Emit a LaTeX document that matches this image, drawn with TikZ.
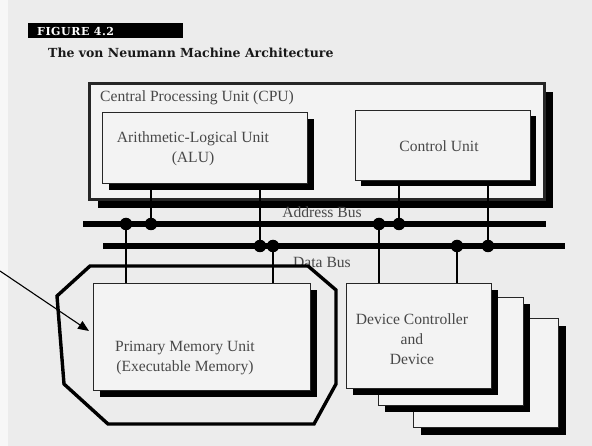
\documentclass[tikz,border=0pt]{standalone}
\usepackage{fontspec}
\setmainfont{Liberation Serif}
\newfontfamily\headfont{DejaVu Serif}
\newfontfamily\tagfont[LetterSpace=5]{DejaVu Serif}
\usetikzlibrary{arrows.meta,shadows}

\definecolor{paper}{RGB}{236,236,236}
\definecolor{boxfill}{RGB}{243,243,243}
\definecolor{ink}{RGB}{72,72,72}

\begin{document}
\begin{tikzpicture}[x=1pt,y=-1pt,
  unit/.style={draw=black!85, line width=1.4pt, fill=boxfill, inner sep=0pt, anchor=north west},
  shadowed/.style={drop shadow={shadow xshift=#1pt, shadow yshift=-#1pt, opacity=1, fill=black}},
  lbl/.style={text=ink, font=\fontsize{15.6}{20}\selectfont, align=center, inner sep=0pt},
  bus/.style={line width=6pt},
  tap/.style={line width=2.5pt},
  joint/.style={circle, fill=black, inner sep=0pt, minimum size=12.5pt},
]
% paper
\fill[paper] (0,0) rectangle (592,446);
\fill[white!60!paper] (0,0) rectangle (8,446);
\useasboundingbox (0,0) rectangle (592,446);

% caption
\node[fill=black, inner sep=0pt, minimum width=155pt, minimum height=15pt, anchor=north west] (tag) at (28,23) {};
\node[text=white, inner sep=0pt, anchor=west, font=\tagfont\bfseries\fontsize{11}{12}\selectfont] (tagtext) at (37,31) {FIGURE 4.2};
\node[text=black!90, inner sep=0pt, anchor=west, font=\headfont\bfseries\fontsize{12.5}{14}\selectfont] (title) at (48,53) {The von Neumann Machine Architecture};

% processor
\node[unit, line width=2.6pt, shadowed=9, minimum width=455pt, minimum height=116pt] (cpu) at (88,82) {};
\node[lbl, anchor=west] (cputext) at (100,98) {Central Processing Unit (CPU)};
\node[unit, shadowed=6, minimum width=205pt, minimum height=71pt] (alu) at (102,112) {};
\node[lbl] (alutext) at (193,149) {Arithmetic-Logical Unit\\(ALU)};
\node[unit, shadowed=5, minimum width=175pt, minimum height=70pt] (ctrl) at (355,110) {};
\node[lbl] (ctrltext) at (439,146) {Control Unit};

% memory and devices
\node[unit, shadowed=6, minimum width=217pt, minimum height=107pt] (mem) at (93,283) {};
\node[lbl] (memtext) at (185,358) {Primary Memory Unit\\(Executable Memory)};
\node[unit, shadowed=7, minimum width=145pt, minimum height=109pt] (dev3) at (413,318) {};
\node[unit, shadowed=6, minimum width=145pt, minimum height=108pt] (dev2) at (378,297) {};
\node[unit, shadowed=6, minimum width=145pt, minimum height=105pt] (dev1) at (346,283) {};
\node[lbl] (devtext) at (412,339) {Device Controller\\and\\Device};

% buses
\coordinate (abusL) at (83,224);
\coordinate (abusR) at (546,224);
\coordinate (dbusL) at (103,246);
\coordinate (dbusR) at (565,246);
\draw[bus] (abusL) -- (abusR);
\draw[bus] (dbusL) -- (dbusR);
\node[lbl] (abustext) at (322,212) {Address Bus};
\node[lbl] (dbustext) at (322,262) {Data Bus};

% junction points
\coordinate (a1) at (126,224);
\coordinate (a2) at (151,224);
\coordinate (a3) at (379,224);
\coordinate (a4) at (399,224);
\coordinate (d1) at (260,246);
\coordinate (d2) at (273,246);
\coordinate (d3) at (457,246);
\coordinate (d4) at (488,246);

% taps onto the buses
\draw[tap] (alu.south -| a2) -- (a2);
\draw[tap] (alu.south -| d1) -- (d1);
\draw[tap] (ctrl.south -| a4) -- (a4);
\draw[tap] (ctrl.south -| d4) -- (d4);
\draw[tap] (a1) -- (a1 |- mem.north);
\draw[tap] (d2) -- (d2 |- mem.north);
\draw[tap] (a3) -- (a3 |- dev1.north);
\draw[tap] (d3) -- (d3 |- dev1.north);

\foreach \j in {a1,a2,a3,a4,d1,d2,d3,d4}
  \node[joint] (dot-\j) at (\j) {};

% outline round the memory unit and the pointer to it
\draw[line width=3.4pt, line join=miter]
  (90,266) -- (308,266) -- (336,290) -- (336,384) -- (314,424)
  -- (108,424) -- (64,384) -- (57,296) -- cycle;
\coordinate (ptrTail) at (0,271);
\coordinate (ptrTip) at (89,331);
\draw[line width=1.1pt, -{Triangle[length=11pt,width=9pt]}] (ptrTail) -- (ptrTip);
\end{tikzpicture}
\end{document}
